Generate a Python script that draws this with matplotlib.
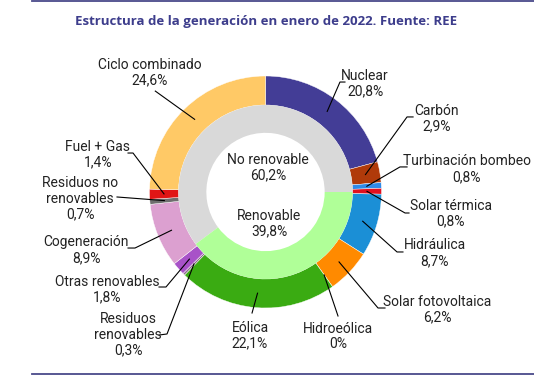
import matplotlib
matplotlib.use("Agg")
import matplotlib.pyplot as plt
from matplotlib.lines import Line2D
import numpy as np

# outer ring, clockwise from the top
fuentes = ["Nuclear", "Carbón", "Turbinación bombeo", "Solar térmica", "Hidráulica",
           "Solar fotovoltaica", "Hidroeólica", "Eólica", "Residuos\nrenovables",
           "Otras renovables", "Cogeneración", "Residuos no\nrenovables", "Fuel + Gas",
           "Ciclo combinado"]
pesos = [20.8, 2.9, 0.8, 0.8, 8.7, 6.2, 0.0, 22.1, 0.3, 1.8, 8.9, 0.7, 1.4, 24.6]
colores = ["#433d96", "#b03a0a", "#2f8ae8", "#e0101f", "#1b8fd6", "#ff8a00", "#3aab12",
           "#3aab12", "#8c6e8c", "#a852c8", "#dca0d0", "#6e6e6e", "#e01515", "#ffc966"]

# inner ring
grupos = ["No renovable", "Renovable"]
pesos_grupo = [60.2, 39.8]
colores_grupo = ["#d9d9d9", "#b0ff98"]

# label text position, elbow and end of leader (in units of pie radius)
pos_texto = [(0.858, 0.935), (1.478, 0.634), (1.737, 0.198), (1.599, -0.185),
             (1.461, -0.526), (1.478, -1.013), (0.625, -1.246), (-0.134, -1.241),
             (-1.185, -1.233), (-1.366, -0.841), (-1.547, -0.50), (-1.599, -0.06),
             (-1.444, 0.323), (-0.996, 1.03)]
codo = [(0.642, 0.948), (1.22, 0.647), (1.159, 0.216), (1.203, -0.181),
        (1.134, -0.517), (0.970, -1.0), (0.625, -1.069), (-0.116, -1.043),
        (-0.849, -1.224), (-0.858, -0.819), (-1.125, -0.483), (-1.28, -0.043),
        (-1.142, 0.336), (-0.95, 0.87)]
fin = [(0.685, 0.948), (1.272, 0.647), (1.22, 0.216), (1.237, -0.181),
       (1.185, -0.517), (1.03, -1.0), (0.625, -1.069), (-0.116, -1.043),
       (-0.918, -1.233), (-0.918, -0.819), (-1.185, -0.483), (-1.28, -0.043),
       (-1.185, 0.336), (-0.95, 0.87)]

W, H = 534, 380
fig = plt.figure(figsize=(W / 100, H / 100), dpi=100)
fig.patch.set_facecolor("white")

cx, cy, R = 265.5, 192, 116
ax = fig.add_axes([(cx - R) / W, (H - cy - R) / H, 2 * R / W, 2 * R / H])
ax.set_xlim(-1, 1)
ax.set_ylim(-1, 1)
ax.axis("off")

fuente = "Roboto"
txt_color = "#222222"

ax.pie(pesos, radius=1.0, colors=colores, startangle=90, counterclock=False,
       wedgeprops=dict(width=0.25, edgecolor="white", linewidth=0.3))
ax.pie(pesos_grupo, radius=0.75, colors=colores_grupo, startangle=0, counterclock=True,
       wedgeprops=dict(width=0.24, edgecolor="none"))
ax.set_xlim(-1, 1)
ax.set_ylim(-1, 1)

acum = np.cumsum([0] + pesos[:-1])
for i, (nombre, v) in enumerate(zip(fuentes, pesos)):
    ang = np.deg2rad(90 - (acum[i] + v / 2) * 3.6)
    ax_, ay_ = 0.875 * np.cos(ang), 0.875 * np.sin(ang)
    xs = [ax_, codo[i][0], fin[i][0]]
    ys = [ay_, codo[i][1], fin[i][1]]
    ax.add_line(Line2D(xs, ys, color="black", lw=0.8, clip_on=False))
    etiqueta = nombre + "\n" + f"{v:.1f}".replace(".", ",").replace(",0", "") + "%"
    if v == 0:
        etiqueta = nombre + "\n0%"
    ax.text(pos_texto[i][0], pos_texto[i][1], etiqueta, ha="center", va="center",
            fontsize=10, family=fuente, color=txt_color, linespacing=1.15, clip_on=False)

ax.text(0.022, 0.211, "No renovable\n60,2%", ha="center", va="center", fontsize=10,
        family=fuente, color=txt_color, linespacing=1.15)
ax.text(0.03, -0.272, "Renovable\n39,8%", ha="center", va="center", fontsize=10,
        family=fuente, color=txt_color, linespacing=1.15)

fig.text(266 / W, 1 - 21 / H, "Estructura de la generación en enero de 2022. Fuente: REE",
         ha="center", va="center", fontsize=9.5, fontweight="bold", family="Open Sans",
         color="#3d3d8c")

for yp in (1.2, 374):
    fig.add_artist(Line2D([32 / W, 1], [1 - yp / H, 1 - yp / H], color="#4a4a8a", lw=1.3))

fig.savefig("out.png", dpi=100)
